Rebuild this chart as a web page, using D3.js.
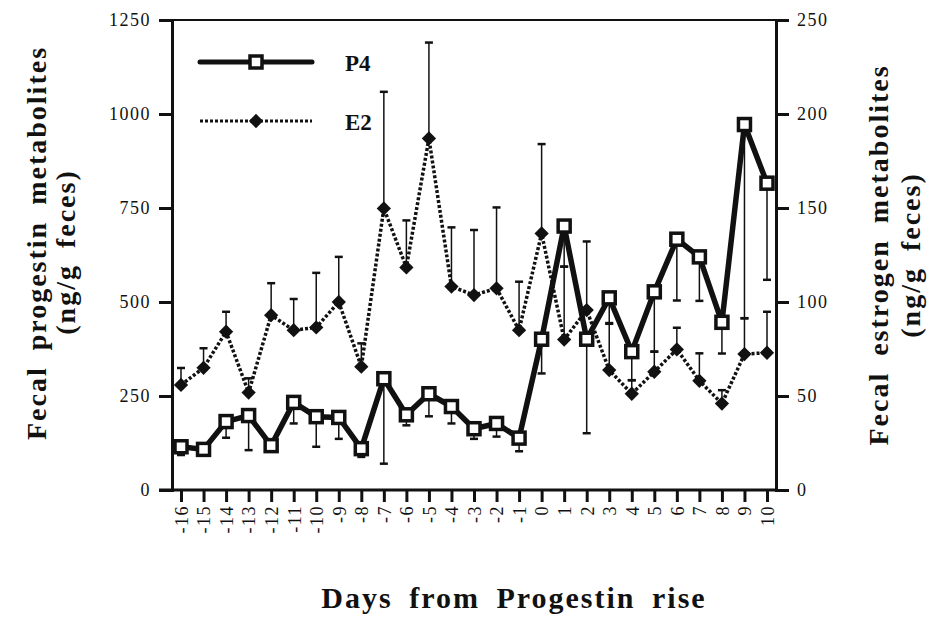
<!DOCTYPE html>
<meta charset="utf-8">
<style>
    body {
        margin: 0;
        background: white;
    }

    svg text {
        font-family: "Liberation Serif", "DejaVu Serif", serif !important;
        fill: #111;
    }

    .tick text {
        font-size: 18px;
        letter-spacing: 1.5px;
    }

    .title {
        font-weight: bold;
        font-size: 28px;
        letter-spacing: 2px;
        word-spacing: 7px;
    }
</style>

<body>
    <svg width="939" height="620"></svg>
    <script src="https://d3js.org/d3.v7.min.js"></script>
    <script>
        // days relative to the progestin rise
        var days = [-16, -15, -14, -13, -12, -11, -10, -9, -8, -7, -6, -5, -4, -3, -2, -1, 0, 1, 2, 3, 4, 5, 6, 7, 8, 9, 10];

        // P4, ng/g (left axis), error drawn downward
        var p4 = [115, 108, 182, 198, 118, 233, 195, 193, 110, 296, 200, 256, 222, 163, 177, 138, 401, 702, 401, 511, 368, 527, 667, 620, 446, 972, 816];
        var p4Se = [22, 10, 43, 92, 10, 56, 80, 57, 22, 226, 28, 60, 45, 27, 35, 35, 91, 108, 250, 69, 76, 159, 163, 117, 83, 515, 257];

        // E2, ng/g (right axis), error drawn upward
        var e2 = [55.9, 65, 84.2, 51.8, 93, 85, 86.5, 100, 65.6, 149.8, 118.4, 187, 108.2, 103.7, 107.3, 85, 136.5, 80, 95.7, 63.8, 51.2, 62.9, 74.8, 58.1, 46, 72.3, 73];
        var e2Se = [9, 10.4, 10.6, 7.6, 17, 16.6, 29, 24, 12.4, 62, 25, 51, 31.5, 34.6, 43, 25.8, 47.5, 38.8, 36.5, 25, 7.2, 10.7, 11.5, 14.6, 7.1, 19, 21.8];

        var leftTicks = [0, 250, 500, 750, 1000, 1250];
        var rightTicks = [0, 50, 100, 150, 200, 250];

        var svg = d3.select("svg");

        var x = d3.scaleLinear().domain([-16, 10]).range([181, 767]);
        var yL = d3.scaleLinear().domain([0, 1250]).range([490, 20]);
        var yR = d3.scaleLinear().domain([0, 250]).range([490, 20]);

        var plotLeft = 172, plotRight = 776, plotTop = 20, plotBottom = 490;

        // frame top
        svg.append("line")
            .attr("x1", plotLeft).attr("x2", plotRight)
            .attr("y1", plotTop).attr("y2", plotTop)
            .attr("stroke", "#111").attr("stroke-width", 2);

        // axes
        var axL = svg.append("g")
            .attr("transform", "translate(" + plotLeft + ",0)")
            .call(d3.axisLeft(yL).tickValues(leftTicks).tickSize(13).tickPadding(8).tickFormat(d3.format("d")));

        var axR = svg.append("g")
            .attr("transform", "translate(" + plotRight + ",0)")
            .call(d3.axisRight(yR).tickValues(rightTicks).tickSize(13).tickPadding(8).tickFormat(d3.format("d")));

        var axB = svg.append("g")
            .attr("transform", "translate(0," + plotBottom + ")")
            .call(d3.axisBottom(x).tickValues(days).tickSize(12).tickFormat(function(d) {
                return d < 0 ? "-" + Math.abs(d) : String(d);
            }));

        axB.select(".domain").remove();
        svg.append("line")
            .attr("x1", plotLeft - 13).attr("x2", plotRight)
            .attr("y1", plotBottom).attr("y2", plotBottom)
            .attr("stroke", "#111").attr("stroke-width", 3);

        [axL, axR, axB].forEach(function(a) {
            a.attr("font-family", null).attr("font-size", null);
            a.selectAll(".domain").attr("stroke", "#111").attr("stroke-width", 3);
            a.selectAll(".tick line").attr("stroke", "#111").attr("stroke-width", 3);
            a.selectAll(".tick text").attr("fill", "#222");
        });

        axB.selectAll(".tick text")
            .attr("transform", "rotate(-90)")
            .attr("text-anchor", "end")
            .attr("x", -15)
            .attr("y", 0)
            .attr("dy", "0.35em");

        // error bars
        var cap = 4;
        var e2Err = svg.append("g").attr("stroke", "#111").attr("stroke-width", 1.5);
        days.forEach(function(d, i) {
            var cx = x(d), y0 = yR(e2[i]), y1 = yR(e2[i] + e2Se[i]);
            e2Err.append("line").attr("x1", cx).attr("x2", cx).attr("y1", y0).attr("y2", y1);
            e2Err.append("line").attr("x1", cx - cap).attr("x2", cx + cap).attr("y1", y1).attr("y2", y1).attr("stroke-width", 2.5);
        });

        var p4Err = svg.append("g").attr("stroke", "#111").attr("stroke-width", 1.5);
        days.forEach(function(d, i) {
            var cx = x(d), y0 = yL(p4[i]), y1 = yL(p4[i] - p4Se[i]);
            p4Err.append("line").attr("x1", cx).attr("x2", cx).attr("y1", y0).attr("y2", y1);
            p4Err.append("line").attr("x1", cx - cap).attr("x2", cx + cap).attr("y1", y1).attr("y2", y1).attr("stroke-width", 2.5);
        });

        // E2 series
        var lineE2 = d3.line().x(function(d, i) { return x(days[i]); }).y(function(d) { return yR(d); });
        svg.append("path")
            .datum(e2)
            .attr("d", lineE2)
            .attr("fill", "none")
            .attr("stroke", "#111")
            .attr("stroke-width", 3.5)
            .attr("stroke-dasharray", "3,2");

        var diamond = d3.symbol().type(d3.symbolDiamond2).size(130);
        svg.append("g")
            .selectAll("path")
            .data(e2)
            .enter().append("path")
            .attr("d", diamond)
            .attr("transform", function(d, i) { return "translate(" + x(days[i]) + "," + yR(d) + ")"; })
            .attr("fill", "#111");

        // P4 series
        var lineP4 = d3.line().x(function(d, i) { return x(days[i]); }).y(function(d) { return yL(d); });
        svg.append("path")
            .datum(p4)
            .attr("d", lineP4)
            .attr("fill", "none")
            .attr("stroke", "#111")
            .attr("stroke-width", 5.5)
            .attr("stroke-linejoin", "miter");

        svg.append("g")
            .selectAll("rect")
            .data(p4)
            .enter().append("rect")
            .attr("x", function(d, i) { return x(days[i]) - 6; })
            .attr("y", function(d) { return yL(d) - 6; })
            .attr("width", 12)
            .attr("height", 12)
            .attr("fill", "white")
            .attr("stroke", "#111")
            .attr("stroke-width", 3.5);

        // legend
        var lg = svg.append("g");
        lg.append("line").attr("x1", 200).attr("x2", 312).attr("y1", 62).attr("y2", 62)
            .attr("stroke", "#111").attr("stroke-width", 5).attr("stroke-linecap", "round");
        lg.append("rect").attr("x", 250).attr("y", 56).attr("width", 12).attr("height", 12)
            .attr("fill", "white").attr("stroke", "#111").attr("stroke-width", 3.5);
        lg.append("text").attr("x", 345).attr("y", 71).style("font-size", "23px").style("font-weight", "bold").text("P4");

        lg.append("line").attr("x1", 200).attr("x2", 312).attr("y1", 121).attr("y2", 121)
            .attr("stroke", "#111").attr("stroke-width", 3).attr("stroke-dasharray", "3,2");
        lg.append("path").attr("d", diamond).attr("transform", "translate(256,121)").attr("fill", "#111");
        lg.append("text").attr("x", 345).attr("y", 130).style("font-size", "23px").style("font-weight", "bold").text("E2");

        // axis titles
        svg.append("text").attr("class", "title")
            .attr("transform", "translate(46,243) rotate(-90)")
            .attr("text-anchor", "middle")
            .text("Fecal progestin metabolites");
        svg.append("text").attr("class", "title")
            .attr("transform", "translate(75,252) rotate(-90)")
            .attr("text-anchor", "middle")
            .text("(ng/g feces)");

        svg.append("text").attr("class", "title")
            .attr("transform", "translate(888,255) rotate(-90)")
            .attr("text-anchor", "middle")
            .text("Fecal estrogen metabolites");
        svg.append("text").attr("class", "title")
            .attr("transform", "translate(920,255) rotate(-90)")
            .attr("text-anchor", "middle")
            .text("(ng/g feces)");

        svg.append("text").attr("class", "title")
            .attr("x", 514).attr("y", 608)
            .attr("text-anchor", "middle")
            .style("font-size", "30px")
            .text("Days from Progestin rise");
    </script>
</body>
